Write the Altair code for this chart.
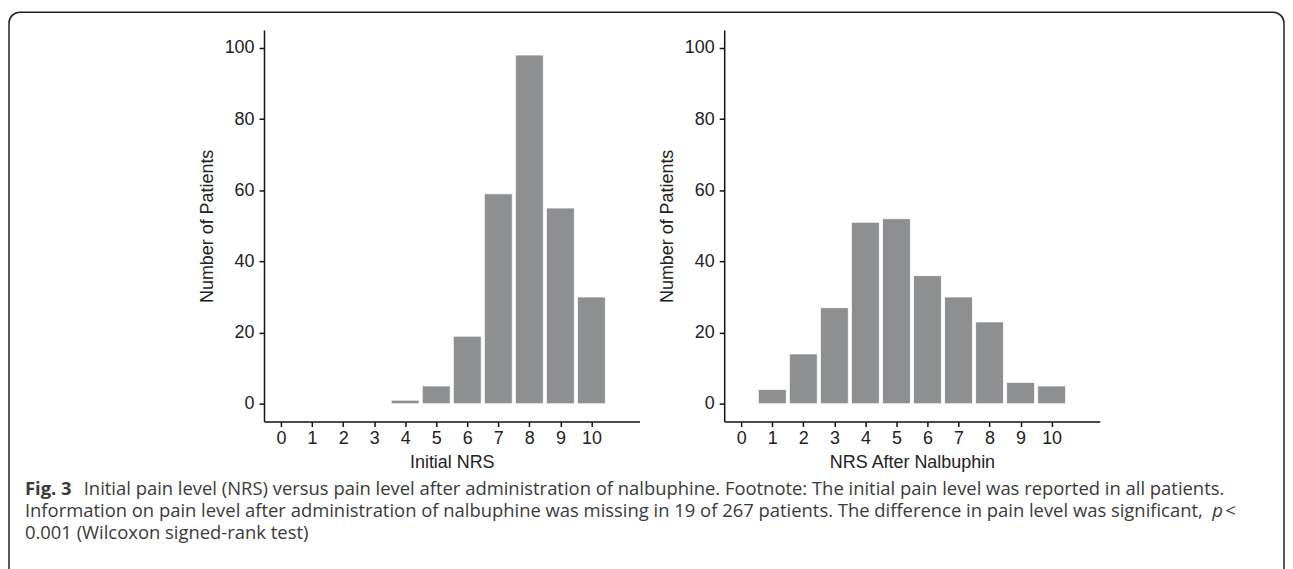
import altair as alt
import pandas as pd

# ---- data ----
nrs_levels = [0, 1, 2, 3, 4, 5, 6, 7, 8, 9, 10]
initial_counts = [0, 0, 0, 0, 1, 5, 19, 59, 98, 55, 30]
after_counts = [0, 4, 14, 27, 51, 52, 36, 30, 23, 6, 5]
y_ticks = [0, 20, 40, 60, 80, 100]
x_title_left = "Initial NRS"
x_title_right = "NRS After Nalbuphin"
y_title = "Number of Patients"

cap_bold = "Fig. 3"
cap_line1 = ("Initial pain level (NRS) versus pain level after administration of nalbuphine. "
             "Footnote: The initial pain level was reported in all patients.")
cap_line2 = ("Information on pain level after administration of nalbuphine was missing in 19 of "
             "267 patients. The difference in pain level was significant,")
cap_line2_p = "p"
cap_line2_lt = "<"
cap_line3 = "0.001 (Wilcoxon signed-rank test)"

BAR = "#8e8f91"
TXT = "#222222"
CAP = "#3a3a3a"
W, H = 377, 393


def panel(counts, xtitle):
    df = pd.DataFrame({"nrs": nrs_levels, "n": counts})
    base = alt.Chart(df).transform_filter("datum.n > 0").transform_calculate(
        x1="datum.nrs - 0.45", x2="datum.nrs + 0.45"
    )
    bars = base.mark_bar(color=BAR, stroke="white", strokeWidth=0.8).encode(
        x=alt.X("x1:Q", title=xtitle,
                scale=alt.Scale(domain=[-0.55, 11.55], nice=False, zero=False),
                axis=alt.Axis(values=nrs_levels, format="d", grid=False)),
        x2="x2:Q",
        y=alt.Y("n:Q", title=y_title,
                scale=alt.Scale(domain=[-5, 105], nice=False),
                axis=alt.Axis(values=y_ticks, grid=False)),
        y2=alt.datum(0),
    )
    return bars.properties(width=W, height=H)


left = panel(initial_counts, x_title_left)
right = panel(after_counts, x_title_right)

# plot-area origin of the left panel on the page is about (265, 29)
OX, OY = 265, 29


def caption(text, px, py, weight="normal", style="normal"):
    return alt.Chart(pd.DataFrame({"t": [text]})).mark_text(
        align="left", baseline="middle", font="Open Sans", fontSize=18.5,
        fontWeight=weight, fontStyle=style, color=CAP, clip=False
    ).encode(
        text="t:N", x=alt.value(px - OX), y=alt.value(py - OY)
    )


border = alt.Chart(pd.DataFrame({"b": [1]})).mark_rect(
    fill="transparent", stroke="#222222", strokeWidth=1.5, cornerRadius=11, clip=False
).encode(
    x=alt.value(9 - OX), x2=alt.value(1289 - OX),
    y=alt.value(11 - OY), y2=alt.value(600 - OY),
)

captions = [
    caption(cap_bold, 25, 490, weight="bold"),
    caption(cap_line1, 84, 490),
    caption(cap_line2, 25, 512),
    caption(cap_line2_p, 1217, 512, style="italic"),
    caption(cap_line2_lt, 1230, 512),
    caption(cap_line3, 25, 534),
]

left_full = alt.layer(border, left, *captions)

chart = alt.hconcat(left_full, right, spacing=85, bounds="flush").properties(
    padding={"left": 0, "top": 2, "right": 0, "bottom": 0}
).configure_view(strokeWidth=0).configure_axis(
    domainColor="#111111", domainWidth=1.5, tickColor="#111111", tickWidth=1.5,
    tickSize=5, labelFont="Liberation Sans", labelFontSize=18, labelColor=TXT,
    titleFont="Liberation Sans", titleFontSize=18, titleFontWeight="normal",
    titleColor=TXT,
).configure_axisX(labelPadding=3, titlePadding=6).configure_axisY(
    labelPadding=5, titlePadding=8
)

chart.save("out.html", embed_options={"renderer": "svg", "actions": False})
